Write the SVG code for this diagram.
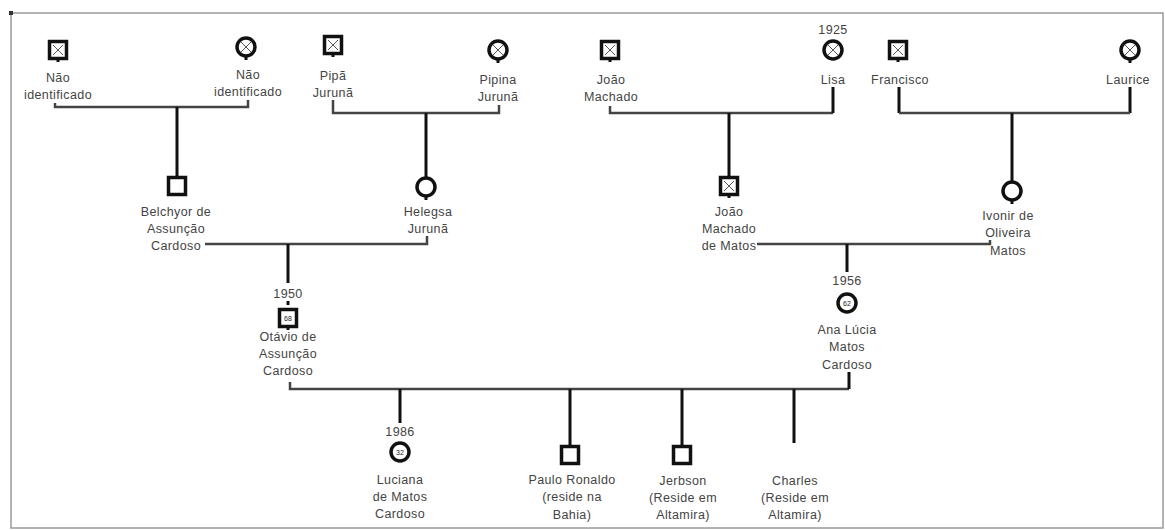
<svg xmlns="http://www.w3.org/2000/svg" width="1165" height="530" viewBox="0 0 1165 530">
<style>
text{font-family:"Liberation Sans",Arial,sans-serif;font-size:12.5px;fill:#444;text-anchor:middle;letter-spacing:0.4px}
.age{font-size:7px;fill:#222;letter-spacing:0}
.sym{fill:#fff;stroke:#111;stroke-width:3.5}
.x{stroke:#555;stroke-width:1;fill:none}
.bus{stroke:#444;stroke-width:2.5;fill:none}
.drop{stroke:#111;stroke-width:3;fill:none}
.stub{stroke:#111;stroke-width:3;fill:none}
</style>
<defs>
<g id="sq"><rect class="sym" x="-8.5" y="-8.5" width="17" height="17"/></g>
<g id="sqx"><rect class="sym" x="-8.5" y="-8.5" width="17" height="17" stroke-width="4.5"/><path class="x" d="M-5,-5L5,5M5,-5L-5,5"/></g>
<g id="ci"><circle class="sym" r="9"/></g>
<g id="cix"><circle class="sym" r="9"/><path class="x" d="M-5,-5L5,5M5,-5L-5,5"/></g>
</defs>
<rect x="11" y="13" width="1152" height="515" fill="none" stroke="#999" stroke-width="1.5"/>
<rect x="9" y="11" width="4" height="4" fill="#333"/>

<g id="connectors">
<path class="bus" d="M55,103V107H248V100"/>
<path class="drop" d="M177,107V177"/>
<path class="bus" d="M333,100V113H499V105"/>
<path class="drop" d="M426,113V178"/>
<path class="bus" d="M610,106V113H833"/>
<path class="stub" d="M833,87V113"/>
<path class="drop" d="M729,113V177"/>
<path class="stub" d="M899,87V113M1130,87V113"/>
<path class="bus" d="M899,113H1130"/>
<path class="drop" d="M1012,113V182"/>
<path class="bus" d="M205,244H427V236"/>
<path class="drop" d="M288,244V283"/>
<path class="bus" d="M757,244H990V240"/>
<path class="drop" d="M847,244V272"/>
<path class="bus" d="M290,382V389H849"/>
<path class="stub" d="M849,372V389"/>
<path class="drop" d="M400,389V423M570,389V446M682,389V446M794,389V443"/>
</g>

<g id="n1"><use href="#sqx" x="58" y="50"/><path class="stub" d="M58,58V62"/><text x="58" y="82">Não</text><text x="58" y="99">identificado</text></g>
<g id="n2"><use href="#cix" x="246" y="47"/><path class="stub" d="M246,56V60"/><text x="248" y="79">Não</text><text x="248" y="96">identificado</text></g>
<g id="n3"><use href="#sqx" x="333" y="45"/><path class="stub" d="M333,53V57"/><text x="333" y="80">Pipã</text><text x="333" y="97">Jurunã</text></g>
<g id="n4"><use href="#cix" x="498" y="50"/><path class="stub" d="M498,59V63"/><text x="498" y="84">Pipina</text><text x="498" y="101">Jurunã</text></g>
<g id="n5"><use href="#sqx" x="610" y="50"/><path class="stub" d="M610,58V62"/><text x="611" y="84">João</text><text x="611" y="101">Machado</text></g>
<g id="n6"><text x="833" y="34">1925</text><use href="#cix" x="833" y="50"/><text x="833" y="84">Lisa</text></g>
<g id="n7"><use href="#sqx" x="898" y="50"/><path class="stub" d="M898,58V62"/><text x="900" y="84">Francisco</text></g>
<g id="n8"><use href="#cix" x="1130" y="50"/><path class="stub" d="M1130,59V63"/><text x="1128" y="84">Laurice</text></g>

<g id="n9"><use href="#sq" x="177" y="186"/><text x="176" y="216">Belchyor de</text><text x="176" y="233">Assunção</text><text x="176" y="250">Cardoso</text></g>
<g id="n10"><use href="#ci" x="426" y="187"/><path class="stub" d="M426,196V200"/><text x="428" y="216">Helegsa</text><text x="428" y="233">Jurunã</text></g>
<g id="n11"><use href="#sqx" x="729" y="186"/><path class="stub" d="M729,194V198"/><text x="729" y="216">João</text><text x="729" y="233">Machado</text><text x="729" y="250">de Matos</text></g>
<g id="n12"><use href="#ci" x="1012" y="191"/><path class="stub" d="M1012,200V204"/><text x="1008" y="220">Ivonir de</text><text x="1008" y="237">Oliveira</text><text x="1008" y="255">Matos</text></g>

<g id="n13"><text x="288" y="298">1950</text><path class="stub" d="M288,301V305"/><use href="#sq" x="288" y="318"/><text class="age" x="288" y="320.5">68</text><path class="stub" d="M288,326V330"/><text x="288" y="341">Otávio de</text><text x="288" y="358">Assunção</text><text x="288" y="375">Cardoso</text></g>
<g id="n14"><text x="847" y="285">1956</text><use href="#ci" x="847" y="303"/><text class="age" x="847" y="305.5">62</text><text x="847" y="334">Ana Lúcia</text><text x="847" y="351">Matos</text><text x="847" y="369">Cardoso</text></g>

<g id="n15"><text x="400" y="436">1986</text><use href="#ci" x="400" y="452"/><text class="age" x="400" y="454.5">32</text><text x="400" y="484">Luciana</text><text x="400" y="501">de Matos</text><text x="400" y="518">Cardoso</text></g>
<g id="n16"><use href="#sq" x="570" y="455"/><text x="572" y="484">Paulo Ronaldo</text><text x="572" y="501">(reside na</text><text x="572" y="519">Bahia)</text></g>
<g id="n17"><use href="#sq" x="682" y="455"/><text x="683" y="485">Jerbson</text><text x="683" y="502">(Reside em</text><text x="683" y="519">Altamira)</text></g>
<g id="n18"><text x="795" y="485">Charles</text><text x="795" y="502">(Reside em</text><text x="795" y="519">Altamira)</text></g>
</svg>
